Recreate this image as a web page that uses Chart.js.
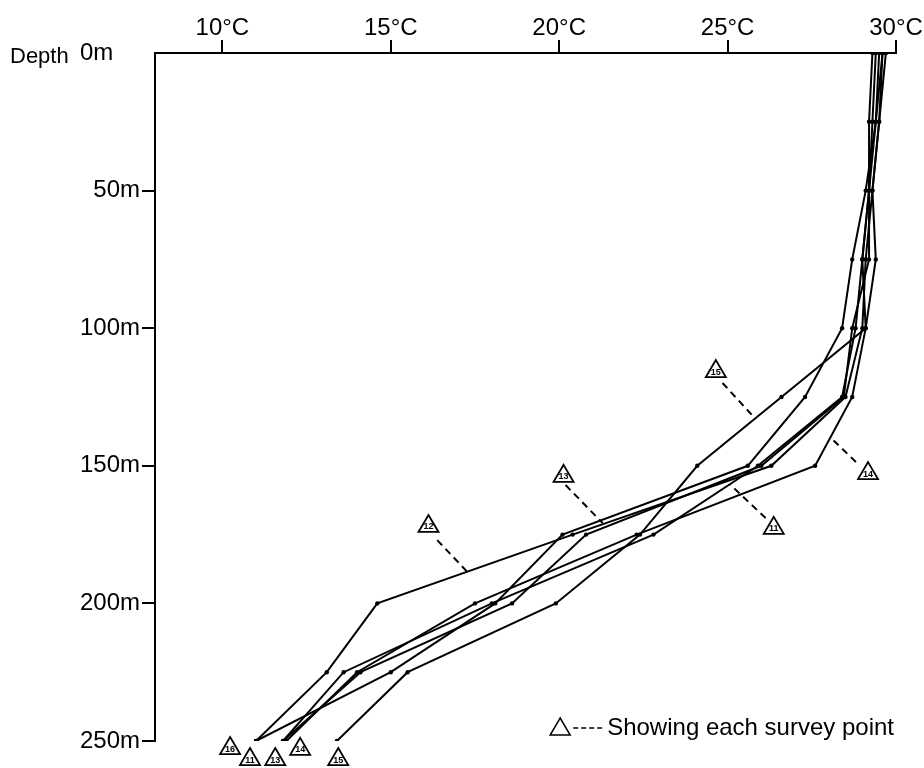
<!DOCTYPE html>
<html lang="en">
<head>
<meta charset="UTF-8">
<title>Water temperature by depth</title>
<script src="https://cdn.jsdelivr.net/npm/chart.js@4.4.0/dist/chart.umd.min.js"></script>
<style>
  body { margin: 0; background: #fff; }
  #wrap { width: 924px; height: 768px; }
</style>
</head>
<body>
<div id="wrap"><canvas id="chartCanvas" width="924" height="768"></canvas></div>
<script>
// depth levels (m) and temperature per survey point (°C)
const depths = [0, 25, 50, 75, 100, 125, 150, 175, 200, 225, 250];
const temp11 = [29.5, 29.4, 29.2, 29.0, 28.8, 28.4, 25.9, 22.8, 18.0, 13.6, 11.8];
const temp12 = [29.6, 29.5, 29.3, 29.1, 29.0, 28.5, 26.3, 20.4, 14.6, 13.1, 11.0];
const temp13 = [29.4, 29.3, 29.2, 29.2, 28.7, 28.45, 26.0, 20.8, 18.6, 14.1, 11.8];
const temp14 = [29.7, 29.5, 29.3, 29.4, 29.1, 28.7, 27.6, 22.3, 17.5, 14.0, 11.9];
const temp15 = [29.3, 29.2, 29.2, 29.0, 29.1, 26.6, 24.1, 22.4, 19.9, 15.5, 13.4];
const temp16 = [29.6, 29.4, 29.1, 28.7, 28.4, 27.3, 25.6, 20.1, 18.1, 15.0, 11.0];

const xTicks = [10, 15, 20, 25, 30];
const yTicks = [0, 50, 100, 150, 200, 250];

// survey point markers (triangles)
const markLabels = ['15', '14', '11', '13', '12', '16', '11', '13', '14', '15'];
const markT = [24.65, 29.17, 26.37, 20.13, 16.12, 10.23, 10.82, 11.57, 12.31, 13.44];
const markD = [115.2, 152.3, 172.2, 153.3, 171.5, 252.2, 256.2, 256.2, 252.5, 256.2];

// dashed leaders from the first five markers to their profile
const leadFromT = [24.85, 28.81, 26.13, 20.19, 16.38];
const leadFromD = [119.9, 148.6, 169.0, 157.0, 177.0];
const leadToT = [25.78, 28.07, 25.09, 21.29, 17.33];
const leadToD = [132.3, 139.9, 157.0, 170.8, 189.3];

const profiles = [temp11, temp12, temp13, temp14, temp15, temp16];

const datasets = profiles.map(arr => ({
    data: arr.map((t, i) => ({ x: t, y: depths[i] })),
    showLine: true,
    borderColor: '#000',
    borderWidth: 2,
    pointRadius: 2.2,
    pointBackgroundColor: '#000',
    pointBorderWidth: 0,
    tension: 0
}));

leadFromT.forEach((t, i) => {
    datasets.push({
        data: [{ x: t, y: leadFromD[i] }, { x: leadToT[i], y: leadToD[i] }],
        showLine: true,
        borderColor: '#000',
        borderWidth: 2,
        borderDash: [7, 5],
        pointRadius: 0
    });
});

function triangle(ctx, cx, cy) {
    ctx.beginPath();
    ctx.moveTo(cx, cy - 10);
    ctx.lineTo(cx + 10, cy + 7);
    ctx.lineTo(cx - 10, cy + 7);
    ctx.closePath();
    ctx.fillStyle = '#fff';
    ctx.fill();
    ctx.stroke();
}

const textPlugin = {
    id: 'textPlugin',
    afterDatasetsDraw(chart) {
        const ctx = chart.ctx;
        const xs = chart.scales.x, ys = chart.scales.y;
        ctx.save();
        ctx.strokeStyle = '#000';
        ctx.lineWidth = 1.8;
        // survey point triangles with numbers
        markT.forEach((t, i) => {
            const px = xs.getPixelForValue(t);
            const py = ys.getPixelForValue(markD[i]);
            triangle(ctx, px, py);
            ctx.fillStyle = '#000';
            ctx.font = 'bold 9px "Liberation Sans", sans-serif';
            ctx.textAlign = 'center';
            ctx.textBaseline = 'middle';
            ctx.fillText(markLabels[i], px, py + 2);
        });
        ctx.fillStyle = '#000';
        ctx.textBaseline = 'middle';
        // Depth label
        ctx.font = '22px "Liberation Sans", sans-serif';
        ctx.textAlign = 'left';
        ctx.fillText('Depth', 10, 57);
        // legend
        const label = 'Showing each survey point';
        ctx.font = '24px "Liberation Sans", sans-serif';
        ctx.textAlign = 'right';
        const right = 894, ly = 728;
        ctx.fillText(label, right, ly);
        const left = right - ctx.measureText(label).width;
        ctx.lineWidth = 1.5;
        ctx.setLineDash([5, 3]);
        ctx.beginPath();
        ctx.moveTo(left - 34, ly);
        ctx.lineTo(left - 2, ly);
        ctx.stroke();
        ctx.setLineDash([]);
        triangle(ctx, left - 47, ly);
        ctx.restore();
    }
};

new Chart(document.getElementById('chartCanvas'), {
    type: 'scatter',
    data: { datasets: datasets },
    options: {
        responsive: false,
        animation: false,
        layout: { padding: { right: 28, bottom: 27 } },
        plugins: { legend: { display: false }, tooltip: { enabled: false } },
        scales: {
            x: {
                type: 'linear',
                position: 'top',
                min: 8,
                max: 30,
                afterBuildTicks: scale => { scale.ticks = xTicks.map(v => ({ value: v })); },
                afterFit: scale => { scale.height = 53; },
                ticks: {
                    callback: v => v + '°C',
                    color: '#000',
                    font: { family: '"Liberation Sans", sans-serif', size: 24 },
                    maxRotation: 0,
                    padding: -3
                },
                grid: { drawOnChartArea: false, drawTicks: true, tickLength: 13, color: '#000', lineWidth: 2 },
                border: { display: true, color: '#000', width: 2 }
            },
            y: {
                type: 'linear',
                reverse: true,
                min: 0,
                max: 250,
                afterBuildTicks: scale => { scale.ticks = yTicks.map(v => ({ value: v })); },
                afterFit: scale => { scale.width = 155; },
                ticks: {
                    callback: v => v === 0 ? '0m    ' : v + 'm',
                    color: '#000',
                    font: { family: '"Liberation Sans", sans-serif', size: 24 },
                    padding: 2
                },
                grid: {
                    drawOnChartArea: false,
                    drawTicks: true,
                    tickLength: 13,
                    lineWidth: 2,
                    color: ctx => (ctx.tick && ctx.tick.value === 0) ? 'rgba(0,0,0,0)' : '#000'
                },
                border: { display: true, color: '#000', width: 2 }
            }
        }
    },
    plugins: [textPlugin]
});
</script>
</body>
</html>
